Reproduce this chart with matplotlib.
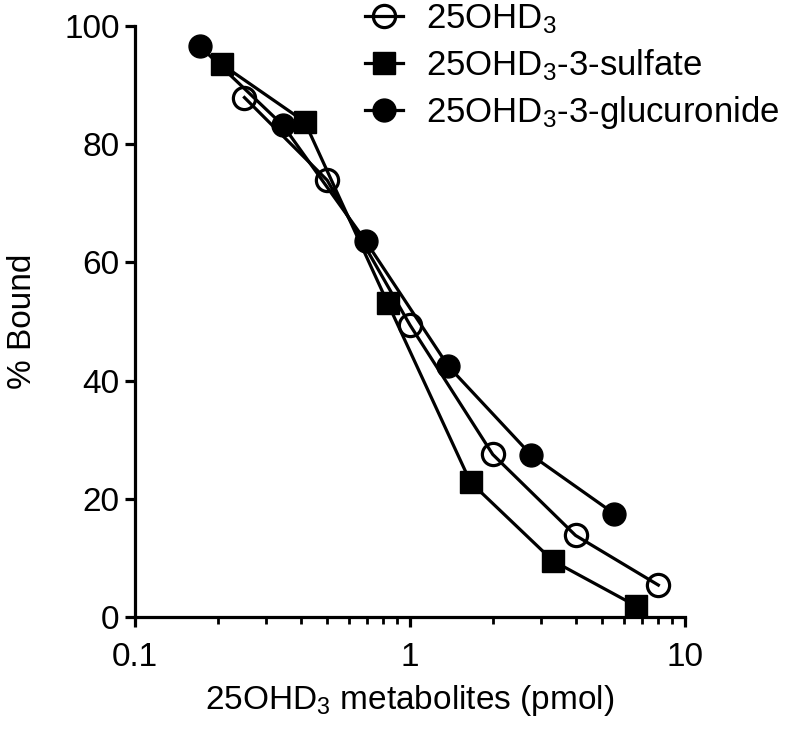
import numpy as np
import matplotlib
matplotlib.use("Agg")
import matplotlib.pyplot as plt
from matplotlib.ticker import LogLocator, NullFormatter, FixedLocator

plt.rcParams.update({
    "font.family": ["Liberation Sans", "DejaVu Sans"],
    "mathtext.fontset": "custom",
    "mathtext.rm": "Liberation Sans",
    "mathtext.it": "Liberation Sans",
    "mathtext.default": "regular",
    "font.size": 24,
})

# values
dose_d3 = [0.25, 0.5, 1.0, 2.0, 4.0, 8.0]
bound_d3 = [87.9, 73.9, 49.4, 27.5, 13.8, 5.4]
dose_sulf = [0.207, 0.414, 0.83, 1.66, 3.31, 6.62]
bound_sulf = [93.5, 83.8, 53.1, 22.8, 9.5, 1.9]
dose_gluc = [0.172, 0.345, 0.69, 1.38, 2.76, 5.52]
bound_gluc = [96.6, 83.2, 63.6, 42.4, 27.4, 17.5]

fig = plt.figure(figsize=(7.89, 7.33), dpi=100)
ax = fig.add_axes([135 / 789, 1 - 617 / 733, (685 - 135) / 789, (617 - 26) / 733])

lw = 2.3
ax.plot(dose_d3, bound_d3, "-o", color="black", lw=lw, ms=16, mfc="none",
        mew=2.3, label="25OHD$_3$", clip_on=False, zorder=3)
ax.plot(dose_sulf, bound_sulf, "-s", color="black", lw=lw, ms=15.5,
        label="25OHD$_3$-3-sulfate", clip_on=False, zorder=3)
ax.plot(dose_gluc, bound_gluc, "-o", color="black", lw=lw, ms=16.5,
        label="25OHD$_3$-3-glucuronide", clip_on=False, zorder=3)

ax.set_xscale("log")
ax.set_xlim(0.1, 10)
ax.set_ylim(0, 100)
ax.set_yticks([0, 20, 40, 60, 80, 100])
ax.xaxis.set_major_locator(FixedLocator([0.1, 1, 10]))
ax.set_xticklabels(["0.1", "1", "10"])
ax.xaxis.set_minor_locator(LogLocator(base=10, subs=np.arange(2, 10)))
ax.xaxis.set_minor_formatter(NullFormatter())

for s in ["top", "right"]:
    ax.spines[s].set_visible(False)
for s in ["left", "bottom"]:
    ax.spines[s].set_linewidth(2.3)
ax.tick_params(which="major", length=7, width=2.3, labelsize=24)
ax.tick_params(axis="x", which="major", pad=11)
ax.tick_params(axis="y", which="major", pad=4)
ax.tick_params(which="minor", length=5, width=2.0)

ax.set_xlabel("25OHD$_3$ metabolites (pmol)", fontsize=24, labelpad=7)
ax.set_ylabel("% Bound", fontsize=24, labelpad=19)

leg = ax.legend(loc="upper left", bbox_to_anchor=(365 / 789, 0.997),
                bbox_transform=fig.transFigure, frameon=False, fontsize=25,
                handlelength=1.08, handletextpad=0.68, labelspacing=0.32,
                borderaxespad=0, borderpad=0)

fig.savefig("out.png", dpi=100)
